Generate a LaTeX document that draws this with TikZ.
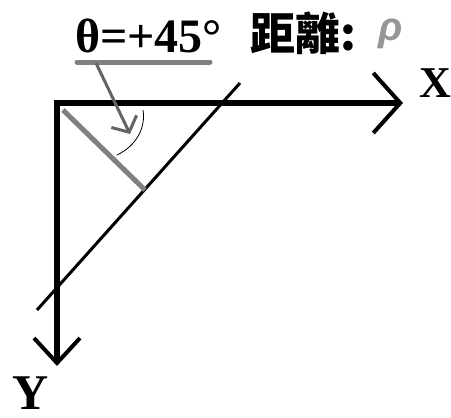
\documentclass[tikz,border=0pt]{standalone}
\usepackage{fontspec}
\setmainfont{Liberation Serif}
\newfontfamily\cjk{Noto Sans CJK SC}
\newfontfamily\sansrho{Liberation Sans}
\usetikzlibrary{arrows.meta, positioning}

\definecolor{rhogray}{RGB}{128,128,128}
\definecolor{ptrgray}{RGB}{100,100,100}
\definecolor{lightgray}{RGB}{150,150,150}

\tikzset{
    axis/.style={line width=6pt, line join=miter,
        {Straight Barb[length=25pt, width=46pt, line width=4pt]}-{Straight Barb[length=27pt, width=60pt, line width=4pt]}},
    lbl/.style={inner sep=0pt, anchor=base west, font=\bfseries\fontsize{44}{44}\selectfont},
    pointer/.style={ptrgray, line width=3pt, -{Straight Barb[length=12pt, width=28pt, line width=3pt]}}
}

\begin{document}
\begin{tikzpicture}[x=1pt, y=-1pt]
    \useasboundingbox (0,0) rectangle (451,418);

    % Points
    \coordinate (O) at (57,103);
    \coordinate (xend) at (403,103);
    \coordinate (yend) at (57,366);
    \coordinate (lineA) at (240,83);
    \coordinate (lineB) at (37,310);
    \coordinate (rhoA) at (63,110);
    \coordinate (foot) at (145,190);

    % Axes
    \draw[axis] (yend) -- (O) -- (xend);
    \node[lbl, font=\bfseries\fontsize{44}{44}\selectfont] (xlab) at (419,97) {X};
    \node[lbl, font=\bfseries\fontsize{50}{50}\selectfont] (ylab) at (12,409) {Y};

    % Line and its distance
    \draw[line width=3pt] (lineA) -- (lineB);
    \draw[rhogray, line width=5pt] (rhoA) -- (foot);

    % Angle
    \coordinate (arcA) at (143,110);
    \coordinate (arcB) at (117,155);
    \draw[line width=0.8pt] (arcA) .. controls (146,128) and (136,146) .. (arcB);

    % Labels
    \node[lbl, font=\bfseries\fontsize{48}{48}\selectfont] (ang) at (75,52) {θ=+45°};
    \coordinate (ul1) at (77,62);
    \coordinate (ul2) at (210,62);
    \draw[rhogray, line width=5pt, line cap=round] (ul1) -- (ul2);
    \coordinate (ptr) at (96,63);
    \coordinate (tip) at (130,134);
    \draw[pointer] (ptr) -- (tip);
    \node[lbl, font=\cjk\bfseries\fontsize{45}{45}\selectfont] (dist) at (250,50) {距離:};
    \node[lbl, lightgray, font=\sansrho\bfseries\itshape\fontsize{40}{40}\selectfont] (rho) at (378,40) {ρ};
\end{tikzpicture}
\end{document}
